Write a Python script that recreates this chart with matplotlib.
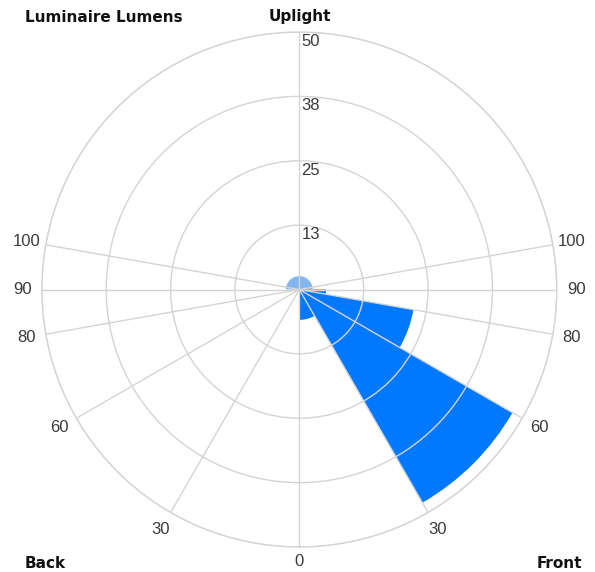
import numpy as np
import matplotlib
matplotlib.use('Agg')
import matplotlib.pyplot as plt

# zone edges (vertical angle from nadir, degrees) and lumens per zone
front_zone_lo = [0, 30, 60, 80]
front_zone_hi = [30, 60, 80, 90]
front_lumens = [5.9, 47.8, 22.5, 5.2]

back_zone_lo = [0, 30, 60, 80]
back_zone_hi = [30, 60, 80, 90]
back_lumens = [0.0, 0.0, 0.0, 0.0]

uplight_lo = [90, 180]
uplight_hi = [180, 270]
uplight_lumens = [2.6, 2.6]

ring_values = [12.5, 25, 37.5, 50]
ring_labels = ['13', '25', '38', '50']

angle_ticks_front = [0, 30, 60, 80, 90, 100]
angle_ticks_back = [30, 60, 80, 90, 100]
r_max = 50

dark_blue = '#0078FF'
light_blue = '#86B6F0'
grid_col = '#d4d4d4'
txt_col = '#3a3a3a'

fig = plt.figure(figsize=(5.95, 5.72), dpi=100)
ax = fig.add_axes([0.0703, 0.0437, 0.8655, 0.9003], projection='polar')
ax.set_theta_zero_location('S')
ax.set_theta_direction(1)
ax.set_rlim(0, r_max)

# bars (front on the right, back mirrored to the left)
for lo, hi, v in zip(front_zone_lo, front_zone_hi, front_lumens):
    ax.bar(np.radians(lo), v, width=np.radians(hi - lo), align='edge',
           color=dark_blue, edgecolor='none', zorder=1)
for lo, hi, v in zip(back_zone_lo, back_zone_hi, back_lumens):
    ax.bar(np.radians(360 - hi), v, width=np.radians(hi - lo), align='edge',
           color=dark_blue, edgecolor='none', zorder=1)
for lo, hi, v in zip(uplight_lo, uplight_hi, uplight_lumens):
    ax.bar(np.radians(lo), v, width=np.radians(hi - lo), align='edge',
           color=light_blue, edgecolor='none', zorder=1)

# grid
grid_angles = angle_ticks_front + [180] + [360 - a for a in angle_ticks_back]
ax.set_thetagrids(grid_angles, labels=[''] * len(grid_angles))
ax.set_rgrids(ring_values, labels=[''] * len(ring_values))
ax.grid(True, color=grid_col, linewidth=1.0, zorder=2)
ax.set_axisbelow(False)
ax.spines['polar'].set_color(grid_col)
ax.spines['polar'].set_linewidth(1.0)
ax.tick_params(length=0)

# angle labels outside the circle
for a in angle_ticks_front:
    rr = r_max * (1.058 if a == 0 else 1.075)
    ax.text(np.radians(a), rr, str(a), ha='center', va='center',
            family='Liberation Sans', fontsize=12, color=txt_col, clip_on=False)
for a in angle_ticks_back:
    ax.text(np.radians(360 - a), r_max * 1.075, str(a), ha='center', va='center',
            family='Liberation Sans', fontsize=12, color=txt_col, clip_on=False)

# ring labels along the uplight axis
for rv, lab in zip(ring_values, ring_labels):
    ax.annotate(lab, xy=(np.pi, rv), xytext=(1.5, -1.5), textcoords='offset points',
                ha='left', va='top', family='Liberation Sans', fontsize=12,
                color=txt_col, zorder=3)

fig.text(25 / 595, 1 - 17 / 572, 'Luminaire Lumens', ha='left', va='center',
         fontsize=11, fontweight='bold', color='#111111')
fig.text(300 / 595, 1 - 17 / 572, 'Uplight', ha='center', va='center',
         fontsize=11, fontweight='bold', color='#111111')
fig.text(25 / 595, 1 - 564 / 572, 'Back', ha='left', va='center',
         fontsize=11, fontweight='bold', color='#111111')
fig.text(582 / 595, 1 - 564 / 572, 'Front', ha='right', va='center',
         fontsize=11, fontweight='bold', color='#111111')

plt.savefig('out.png', dpi=100)
